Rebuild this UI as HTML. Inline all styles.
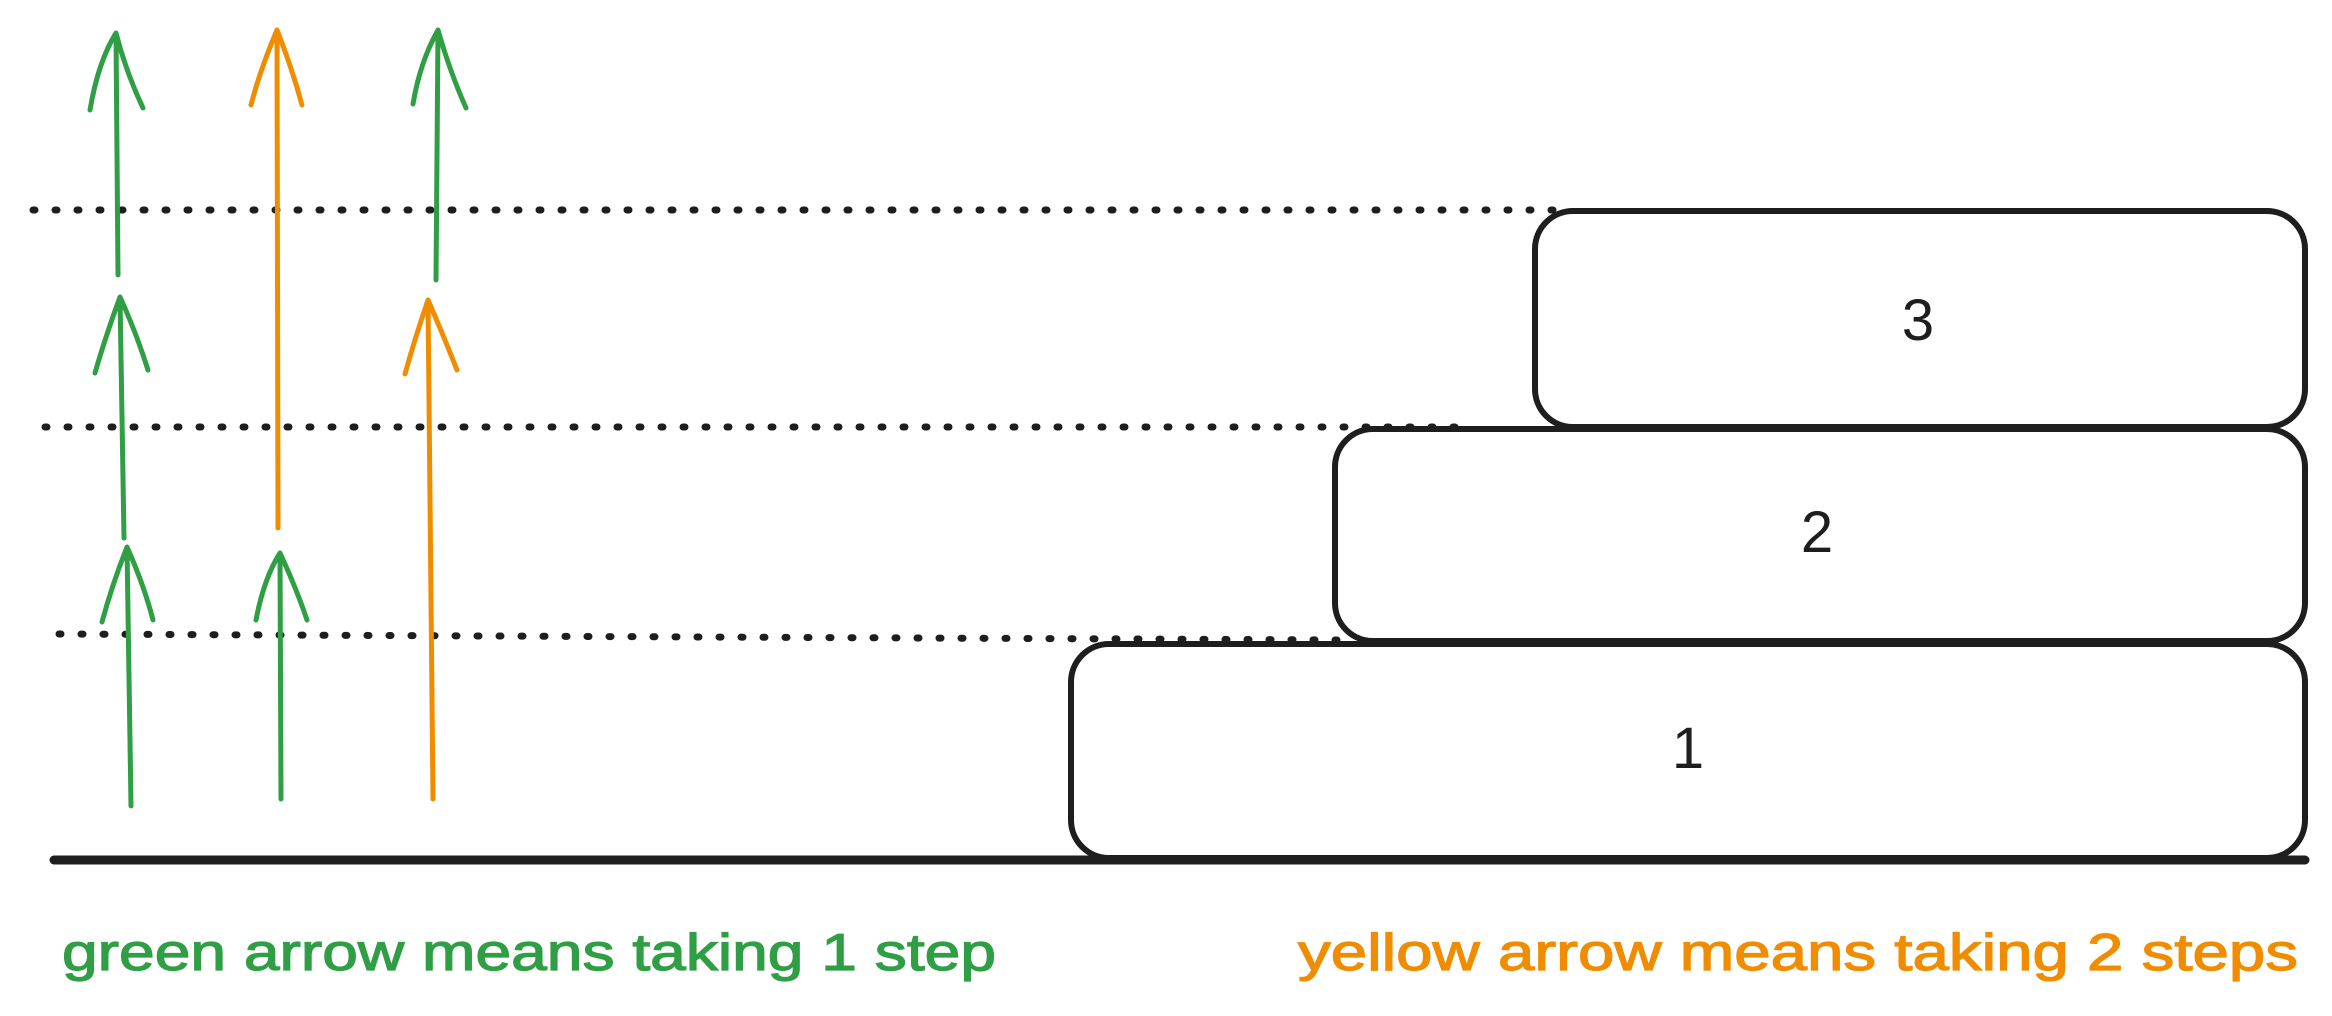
<!DOCTYPE html>
<html><head><meta charset="utf-8"><style>html,body{margin:0;padding:0;background:#fff;overflow:hidden}svg{display:block}</style></head><body>
<svg width="2332" height="1016" viewBox="0 0 2332 1016" xmlns="http://www.w3.org/2000/svg">
<g fill="none" stroke-linecap="round" stroke-linejoin="round">
<g stroke="#1e1e1e" stroke-width="7" stroke-dasharray="2 20">
<line x1="33" y1="210" x2="1554" y2="210"/>
<line x1="45" y1="427" x2="1472" y2="427"/>
<line x1="59" y1="634" x2="1346" y2="640"/>
</g>
<g stroke="#1e1e1e" stroke-width="6" fill="#fff">
<rect x="1071" y="644" width="1234" height="214" rx="38"/>
<rect x="1335" y="429" width="970" height="212" rx="38"/>
<rect x="1535" y="211" width="770" height="216" rx="38"/>
</g>
<line x1="54" y1="860" x2="2305" y2="860" stroke="#1e1e1e" stroke-width="9"/>
<g stroke="#2f9e44" stroke-width="5">
<path d="M118 275 L116 33 M90 110 Q98 62 116 33 Q126 72 143 108"/>
<path d="M124 538 L120 297 M95 373 Q105 338 120 297 Q136 332 148 370"/>
<path d="M131 806 L127 547 M102 622 Q112 585 127 547 Q144 585 153 620"/>
<path d="M281 799 L280 553 M256 620 Q264 578 280 553 Q297 590 307 620"/>
<path d="M436 280 L438 30 M413 104 Q420 62 438 30 Q450 72 466 108"/>
</g>
<g stroke="#f08c00" stroke-width="5">
<path d="M278 528 L277 30 M251 105 Q260 70 277 30 Q292 68 302 105"/>
<path d="M433 799 L428 300 M405 374 Q415 338 428 300 Q442 332 457 370"/>
</g>
</g>
<g font-family="Liberation Sans, sans-serif" fill="#1e1e1e" font-size="58" text-anchor="middle">
<text x="1918" y="340">3</text>
<text x="1817" y="552">2</text>
<text x="1688" y="768">1</text>
</g>
<g font-family="Liberation Sans, sans-serif" font-size="52" stroke-width="1.2">
<text x="62" y="970" fill="#2f9e44" stroke="#2f9e44" textLength="934" lengthAdjust="spacingAndGlyphs">green arrow means taking 1 step</text>
<text x="1298" y="970" fill="#f08c00" stroke="#f08c00" textLength="1000" lengthAdjust="spacingAndGlyphs">yellow arrow means taking 2 steps</text>
</g>
</svg>
</body></html>
